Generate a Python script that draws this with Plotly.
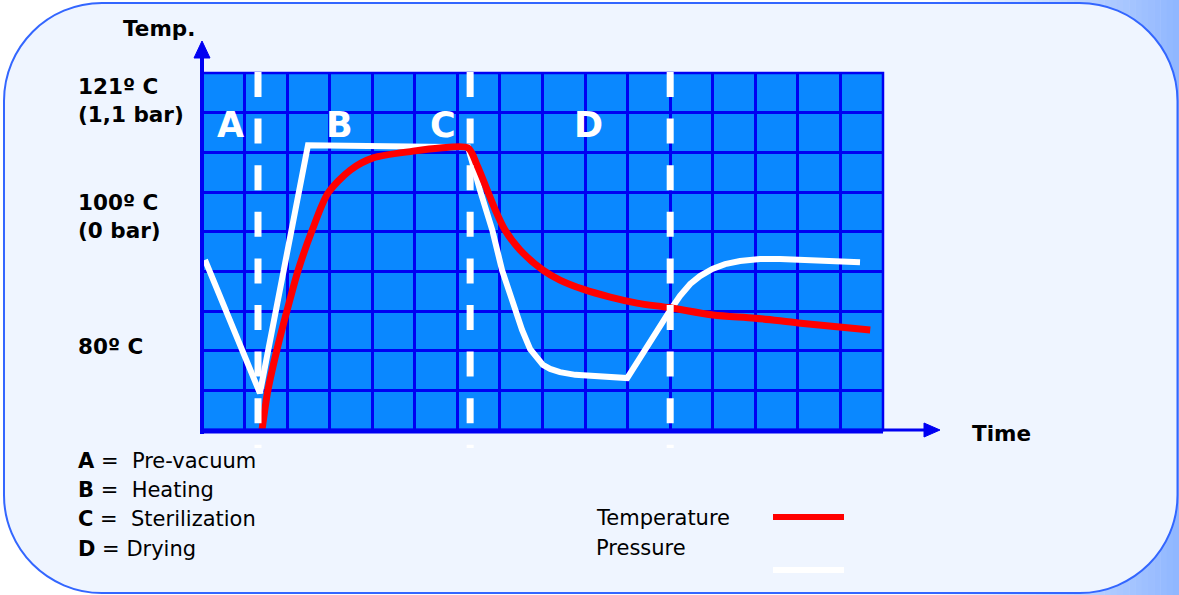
import plotly.graph_objects as go

W, H = 1179, 595

# ---------------- data ----------------
temp_time = [1.41, 1.55, 1.76, 2.00, 2.26, 2.59, 2.96, 3.48, 4.02, 4.96, 5.59, 6.25,
             6.46, 6.70, 6.89, 7.12, 7.47, 8.01, 8.41, 8.95, 9.59, 10.22, 11.00,
             12.01, 12.99, 14.01, 15.70]
temp_value = [0.00, 1.01, 2.02, 3.02, 4.03, 5.04, 5.97, 6.55, 6.86, 7.03, 7.11, 7.11,
              6.68, 6.05, 5.55, 5.04, 4.54, 4.03, 3.78, 3.55, 3.35, 3.20, 3.08,
              2.90, 2.82, 2.70, 2.52]

press_time = [0.07, 1.36, 2.49, 6.25, 6.53, 6.82, 7.05, 7.36, 7.52, 7.71, 7.87, 8.01,
              8.18, 8.41, 8.77, 9.12, 9.99, 11.00, 11.23, 11.47, 11.70, 11.99, 12.29,
              12.64, 13.11, 13.58, 14.41, 15.46]
press_value = [4.29, 0.93, 7.18, 7.13, 6.05, 5.04, 4.03, 3.02, 2.52, 2.04, 1.82, 1.64,
               1.54, 1.46, 1.39, 1.36, 1.31, 3.02, 3.38, 3.68, 3.88, 4.06, 4.18,
               4.26, 4.31, 4.31, 4.29, 4.23]

phase_bounds = [1.316, 6.30, 11.0]
phase_letters = ["A", "B", "C", "D"]
phase_letter_x = [0.66, 3.24, 5.66, 9.07]
phase_letter_y = 7.69

phase_names = ["Pre-vacuum", "Heating", "Sterilization", "Drying"]
temp_labels = ["121º C<br>(1,1 bar)", "100º C<br>(0 bar)", "80º C"]

# ---------------- geometry helpers (pixels -> paper) ----------------
def px(x):
    return x / W

def py(y):
    return 1 - y / H

L, R, T, B = 202, 883, 73, 430

BLUE = "#0000F2"
FILL = "#0A88FF"
BG_IN = "#EFF5FF"
FONT = "DejaVu Sans"

fig = go.Figure()

fig.add_trace(go.Scatter(x=press_time, y=press_value, mode="lines",
                         line=dict(color="white", width=6), hoverinfo="skip",
                         showlegend=False, name="Pressure"))
fig.add_trace(go.Scatter(x=temp_time, y=temp_value, mode="lines",
                         line=dict(color="#FF0000", width=7, shape="spline", smoothing=0.8),
                         hoverinfo="skip", showlegend=False, name="Temperature"))

shapes = []

# background gradient (outside the rounded panel)
n = 40
x_start = 930
for i in range(n):
    x0 = x_start + (W - x_start) * i / n
    x1 = x_start + (W - x_start) * (i + 1) / n + 0.5
    t = (i + 0.5) / n
    r = int(round(255 - (255 - 143) * t))
    g = int(round(255 - (255 - 182) * t))
    shapes.append(dict(type="rect", xref="paper", yref="paper", layer="below",
                       x0=px(x0), x1=px(min(x1, W)), y0=0, y1=1,
                       line=dict(width=0), fillcolor=f"rgb({r},{g},255)"))

# rounded panel
k = 0.5523
def rounded_path(x0, y0, x1, y1, rad):
    rx, ry = rad / W, rad / H
    X0, X1 = px(x0), px(x1)
    Y0, Y1 = py(y0), py(y1)  # Y0 top (larger), Y1 bottom
    p = f"M {X0+rx},{Y0} L {X1-rx},{Y0} "
    p += f"C {X1-rx+k*rx},{Y0} {X1},{Y0-ry+k*ry} {X1},{Y0-ry} "
    p += f"L {X1},{Y1+ry} "
    p += f"C {X1},{Y1+ry-k*ry} {X1-rx+k*rx},{Y1} {X1-rx},{Y1} "
    p += f"L {X0+rx},{Y1} "
    p += f"C {X0+rx-k*rx},{Y1} {X0},{Y1+ry-k*ry} {X0},{Y1+ry} "
    p += f"L {X0},{Y0-ry} "
    p += f"C {X0},{Y0-ry+k*ry} {X0+rx-k*rx},{Y0} {X0+rx},{Y0} Z"
    return p

shapes.append(dict(type="path", xref="paper", yref="paper", layer="below",
                   path=rounded_path(4, 3, 1177.5, 593, 98),
                   fillcolor=BG_IN, line=dict(color="#3366FF", width=2)))

# plot area fill (drawn over the panel, under gridlines)
shapes.append(dict(type="rect", xref="paper", yref="paper", layer="below",
                   x0=px(L), x1=px(R), y0=py(B), y1=py(T),
                   line=dict(width=0), fillcolor=FILL))

# plot frame (top/right edges)
shapes.append(dict(type="rect", xref="paper", yref="paper", layer="above",
                   x0=px(L), x1=px(R), y0=py(B), y1=py(T),
                   line=dict(color=BLUE, width=2.5), fillcolor="rgba(0,0,0,0)"))

# phase separators (dashed)
for xb in phase_bounds:
    shapes.append(dict(type="line", xref="x", yref="paper", layer="above",
                       x0=xb, x1=xb, y0=py(72), y1=py(448),
                       line=dict(color="white", width=7, dash="25px,21.6px")))

# axes with arrows
shapes.append(dict(type="line", xref="paper", yref="paper", layer="above",
                   x0=px(L), x1=px(L), y0=py(434), y1=py(56),
                   line=dict(color=BLUE, width=4)))
shapes.append(dict(type="path", xref="paper", yref="paper", layer="above",
                   path=f"M {px(L-8)},{py(58)} L {px(L)},{py(41)} L {px(L+8)},{py(58)} Z",
                   fillcolor=BLUE, line=dict(color=BLUE, width=1)))
shapes.append(dict(type="line", xref="paper", yref="paper", layer="above",
                   x0=px(200), x1=px(R), y0=py(431), y1=py(431),
                   line=dict(color=BLUE, width=5)))
shapes.append(dict(type="line", xref="paper", yref="paper", layer="above",
                   x0=px(R), x1=px(926), y0=py(430), y1=py(430),
                   line=dict(color=BLUE, width=3)))
shapes.append(dict(type="path", xref="paper", yref="paper", layer="above",
                   path=f"M {px(924)},{py(423)} L {px(940)},{py(430)} L {px(924)},{py(437)} Z",
                   fillcolor=BLUE, line=dict(color=BLUE, width=1)))

# legend swatches
shapes.append(dict(type="line", xref="paper", yref="paper",
                   x0=px(773), x1=px(844), y0=py(517), y1=py(517),
                   line=dict(color="#FF0000", width=6)))
shapes.append(dict(type="line", xref="paper", yref="paper",
                   x0=px(773), x1=px(844), y0=py(570), y1=py(570),
                   line=dict(color="white", width=6)))

annotations = []

def ann(text, x, y, size, bold=False, color="black", xanchor="left", yanchor="middle",
        xref="paper", yref="paper", align="left"):
    annotations.append(dict(text=f"<b>{text}</b>" if bold else text, x=x, y=y,
                            xref=xref, yref=yref, showarrow=False,
                            xanchor=xanchor, yanchor=yanchor, align=align,
                            font=dict(family=FONT, size=size, color=color)))

# phase letters
for lt, lx in zip(phase_letters, phase_letter_x):
    ann(lt, lx, phase_letter_y, 35, bold=True, color="white", xanchor="center",
        xref="x", yref="y")

# axis titles
ann("Temp.", px(159), py(28), 21.5, bold=True, xanchor="center")
ann("Time", px(1001), py(433), 21.5, bold=True, xanchor="center")

# temperature / pressure labels
ann(temp_labels[0], px(76), py(100), 21.5, bold=True)
ann(temp_labels[1], px(76), py(216), 21.5, bold=True)
ann(temp_labels[2], px(76), py(346), 21.5, bold=True)

# phase legend
rows_y = [461, 490, 519, 549]
seps = ["\u00a0=\u00a0\u00a0", "\u00a0=\u00a0\u00a0", "\u00a0=\u00a0\u00a0", "\u00a0=\u00a0"]
for lt, nm, sp, yy in zip(phase_letters, phase_names, seps, rows_y):
    ann(f"<b>{lt}</b>{sp}{nm}", px(76), py(yy), 21)

# series legend
ann("Temperature", px(594), py(518), 21)
ann("Pressure", px(594), py(548), 21)

fig.update_layout(
    width=W, height=H, autosize=False,
    margin=dict(l=0, r=0, t=0, b=0),
    paper_bgcolor="white",
    plot_bgcolor="rgba(0,0,0,0)",
    xaxis=dict(domain=[px(L), px(R)], range=[0, 16], dtick=1, tick0=0,
               showgrid=True, gridcolor=BLUE, gridwidth=2.5, zeroline=False,
               showticklabels=False, ticks="", showline=False, fixedrange=True),
    yaxis=dict(domain=[py(B), py(T)], range=[0, 9], dtick=1, tick0=0,
               showgrid=True, gridcolor=BLUE, gridwidth=2.5, zeroline=False,
               showticklabels=False, ticks="", showline=False, fixedrange=True),
    shapes=shapes,
    annotations=annotations,
    showlegend=False,
)

fig.write_html("out.html", config={"displayModeBar": False},
               post_script="document.body.style.margin='0px';document.body.style.overflow='hidden';")
